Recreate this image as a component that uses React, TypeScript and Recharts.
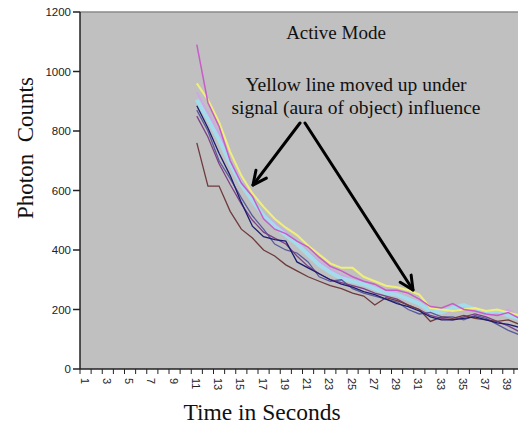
import { LineChart, Line, XAxis, YAxis, CartesianGrid, ReferenceLine } from 'recharts';

// seconds 1..40, readings only start at second 11
const seconds = Array.from({ length: 40 }, (_, i) => i + 1);
const firstSecond = 11;

const magenta = [1090, 895, 815, 700, 625, 580, 505, 470, 455, 430, 410, 375, 345, 330, 310, 295, 285, 265, 265, 255, 235, 210, 205, 220, 200, 195, 185, 180, 190, 170];
const yellow = [960, 905, 830, 730, 650, 590, 545, 505, 475, 450, 415, 385, 355, 340, 340, 310, 295, 280, 275, 265, 250, 205, 200, 195, 200, 205, 195, 200, 190, 180];
const cyan = [905, 840, 770, 690, 620, 565, 515, 480, 450, 420, 385, 350, 325, 305, 295, 285, 270, 255, 250, 235, 220, 195, 190, 205, 215, 200, 190, 195, 180, 170];
const lavender = [930, 860, 790, 700, 630, 570, 520, 490, 460, 425, 395, 360, 335, 315, 300, 290, 275, 260, 255, 240, 225, 200, 190, 195, 200, 195, 185, 185, 200, 175];
const navy = [885, 810, 725, 650, 560, 480, 445, 435, 430, 360, 340, 320, 300, 285, 275, 260, 250, 235, 220, 210, 195, 175, 165, 165, 170, 175, 165, 155, 150, 140];
const purple = [850, 780, 690, 620, 555, 500, 460, 440, 420, 380, 345, 320, 300, 290, 280, 270, 255, 245, 235, 215, 200, 180, 170, 165, 175, 185, 175, 160, 145, 125];
const brown = [760, 615, 615, 530, 470, 440, 400, 380, 350, 330, 310, 295, 280, 270, 255, 245, 215, 240, 230, 215, 200, 160, 175, 170, 180, 170, 165, 160, 165, 150];
const slate = [870, 800, 700, 640, 575, 515, 470, 420, 400, 390, 360, 310, 295, 300, 270, 255, 245, 235, 225, 200, 185, 190, 175, 175, 165, 180, 170, 150, 130, 115];

const yTicks = [0, 200, 400, 600, 800, 1000, 1200];

const series = [
  { key: 'lavender', values: lavender, color: '#cfa6e6', width: 2 },
  { key: 'cyan', values: cyan, color: '#a4dcec', width: 4 },
  { key: 'slate', values: slate, color: '#5a5a9c', width: 1.3 },
  { key: 'purple', values: purple, color: '#7a3f86', width: 1.3 },
  { key: 'brown', values: brown, color: '#6e3a3e', width: 1.3 },
  { key: 'navy', values: navy, color: '#1c1c6e', width: 1.3 },
  { key: 'yellow', values: yellow, color: '#f0ef7a', width: 2 },
  { key: 'magenta', values: magenta, color: '#c85cc8', width: 1.5 },
];

const data = seconds.map((s) => {
  const row: Record<string, number | null> = { second: s };
  series.forEach((sr) => {
    row[sr.key] = s >= firstSecond ? sr.values[s - firstSecond] : null;
  });
  return row;
});

const CHART_W = 525;
const CHART_H = 427;
const Y_W = 80;
const TOP = 12;
const X_H = 58;
const step = (CHART_W - Y_W) / seconds.length;

const serif = '"Liberation Serif", "Times New Roman", serif';
const sans = '"Liberation Sans", Arial, sans-serif';

function TimeTick(props: any) {
  const { x, y, payload, index } = props;
  const v = Number(payload.value);
  return (
    <g>
      <line x1={x - step / 2} y1={y} x2={x - step / 2} y2={y + 5} stroke="#222" />
      {index === seconds.length - 1 && (
        <line x1={x + step / 2} y1={y} x2={x + step / 2} y2={y + 5} stroke="#222" />
      )}
      {v % 2 === 1 && (
        <text
          transform={`translate(${x - 1},${y + 9}) rotate(90)`}
          textAnchor="start"
          dominantBaseline="central"
          fontSize={11}
          fontFamily={sans}
          fill="#222"
        >
          {v}
        </text>
      )}
    </g>
  );
}

function Arrow({ x1, y1, x2, y2 }: { x1: number; y1: number; x2: number; y2: number }) {
  const a = Math.atan2(y2 - y1, x2 - x1);
  const len = 15;
  const spread = 0.45;
  const p1 = [x2 - len * Math.cos(a - spread), y2 - len * Math.sin(a - spread)];
  const p2 = [x2 - len * Math.cos(a + spread), y2 - len * Math.sin(a + spread)];
  return (
    <g stroke="#000" strokeWidth={3} fill="none" strokeLinecap="round" strokeLinejoin="round">
      <line x1={x1} y1={y1} x2={x2} y2={y2} />
      <polyline points={`${p1[0]},${p1[1]} ${x2},${y2} ${p2[0]},${p2[1]}`} />
    </g>
  );
}

export default function App() {
  return (
    <div style={{ position: 'relative', width: 518, height: 427, overflow: 'hidden', background: '#fff' }}>
      <style>{'body{margin:0}'}</style>
      <LineChart width={CHART_W} height={CHART_H} data={data} margin={{ top: TOP, right: 0, left: 0, bottom: 0 }}>
        <CartesianGrid fill="#c0c0c0" horizontal={false} vertical={false} />
        <ReferenceLine y={1200} stroke="#8a8a8a" strokeWidth={1.5} />
        <XAxis
          dataKey="second"
          height={X_H}
          interval={0}
          padding={{ left: step / 2, right: step / 2 }}
          tickLine={false}
          tickSize={0}
          tickMargin={0}
          stroke="#222"
          strokeWidth={1.5}
          tick={<TimeTick />}
        />
        <YAxis
          width={Y_W}
          domain={[0, 1200]}
          ticks={yTicks}
          interval={0}
          tickSize={7}
          stroke="#222"
          strokeWidth={1.5}
          tick={{ fontSize: 11.5, fontFamily: sans, fill: '#222' }}
        />
        {series.map((sr) => (
          <Line
            key={sr.key}
            dataKey={sr.key}
            stroke={sr.color}
            strokeWidth={sr.width}
            dot={false}
            connectNulls={false}
            isAnimationActive={false}
          />
        ))}
      </LineChart>
      <svg width={518} height={427} style={{ position: 'absolute', left: 0, top: 0, pointerEvents: 'none' }}>
        <text x={336} y={39} textAnchor="middle" fontFamily={serif} fontSize={19} fill="#111">
          Active Mode
        </text>
        <text x={356} y={91} textAnchor="middle" fontFamily={serif} fontSize={19.5} fill="#111">
          Yellow line moved up under
        </text>
        <text x={356} y={114} textAnchor="middle" fontFamily={serif} fontSize={19.5} fill="#111">
          signal (aura of object) influence
        </text>
        <Arrow x1={300} y1={123} x2={253} y2={185} />
        <Arrow x1={305} y1={123} x2={413} y2={290} />
        <text
          transform="translate(33,148) rotate(-90)"
          textAnchor="middle"
          fontFamily={serif}
          fontSize={23}
          fill="#111"
        >
          {'Photon\u00A0 Counts'}
        </text>
        <text x={262} y={420} textAnchor="middle" fontFamily={serif} fontSize={23.5} fill="#111">
          Time in Seconds
        </text>
      </svg>
    </div>
  );
}
